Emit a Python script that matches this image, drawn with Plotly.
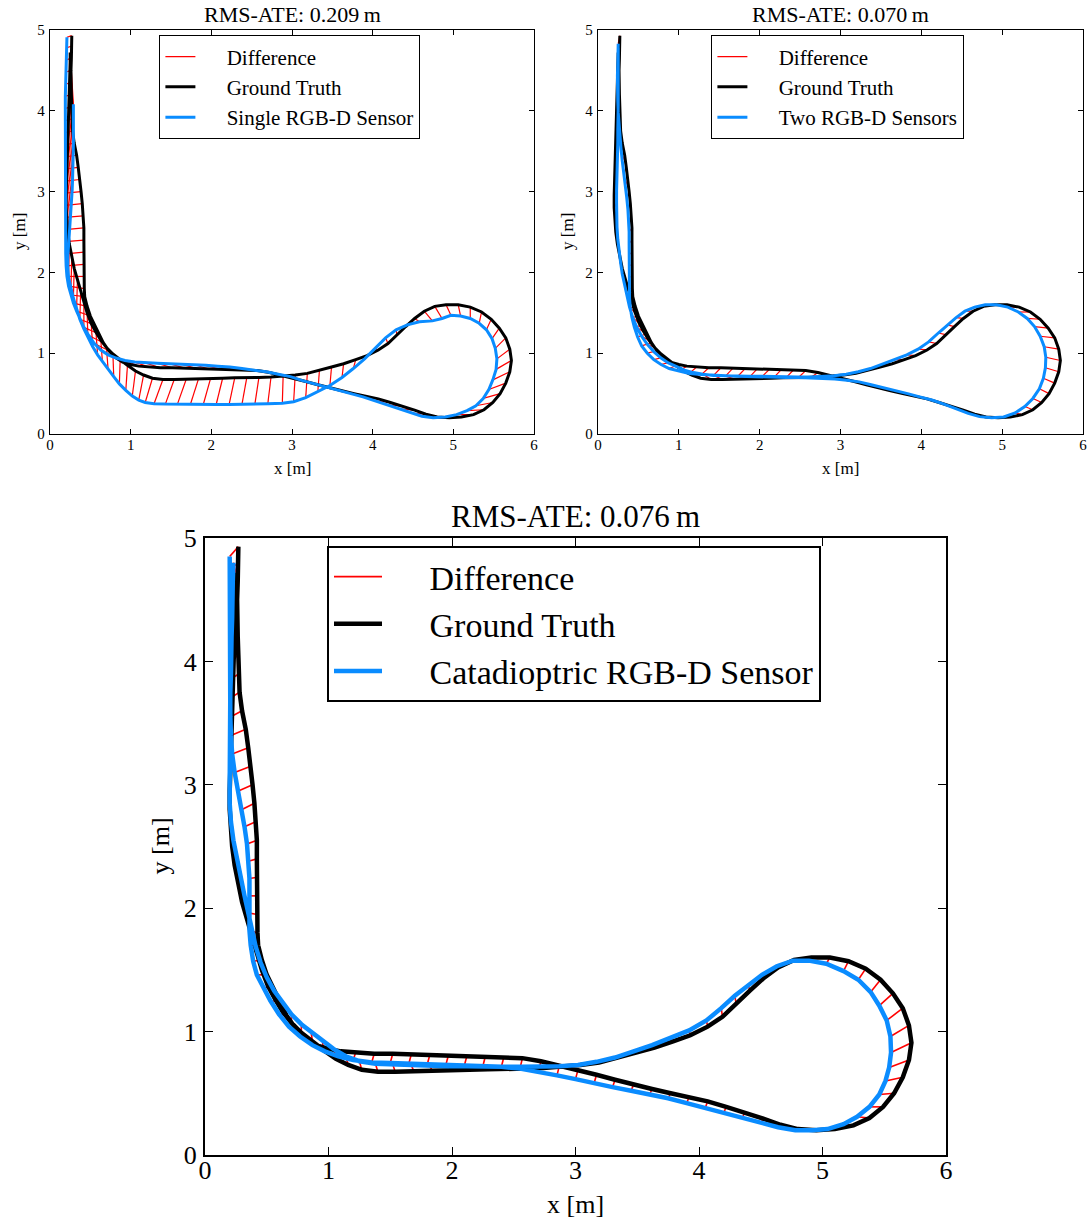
import plotly.graph_objects as go

# ---------------- data ----------------
gt_x = [0.27, 0.27, 0.265, 0.26, 0.26, 0.265, 0.27, 0.275, 0.28, 0.30, 0.33, 0.35, 0.37, 0.385, 0.40, 0.41, 0.42, 0.42, 0.42, 0.42, 0.42, 0.425, 0.43,
        0.46, 0.50, 0.55, 0.60, 0.66, 0.73, 0.81, 0.90, 1.00, 1.10, 1.22,
        1.37, 1.52, 1.67, 1.82, 1.97, 2.12, 2.27, 2.42, 2.57, 2.72, 2.87, 3.02,
        3.17, 3.32, 3.47, 3.62, 3.77, 3.92, 4.07, 4.22, 4.37, 4.52, 4.66, 4.80, 4.95,
        5.10, 5.25, 5.38, 5.49, 5.58, 5.65, 5.70, 5.72, 5.70, 5.65, 5.57, 5.47, 5.35, 5.21, 5.06, 4.91, 4.77,
        4.64, 4.52, 4.41, 4.30, 4.19, 4.07, 3.93, 3.79, 3.64, 3.49, 3.34, 3.19, 3.04, 2.89,
        2.74, 2.59, 2.44, 2.29, 2.14, 1.99, 1.84, 1.69, 1.54, 1.40, 1.27, 1.16,
        1.06, 0.96, 0.87, 0.78, 0.70, 0.63, 0.57, 0.51, 0.46, 0.42, 0.38, 0.34, 0.30, 0.27, 0.24, 0.22, 0.21,
        0.20, 0.20, 0.205, 0.21, 0.215, 0.22, 0.225, 0.23, 0.235, 0.24, 0.245, 0.25, 0.25, 0.25]
gt_y = [4.93, 4.80, 4.65, 4.50, 4.35, 4.20, 4.05, 3.90, 3.75, 3.60, 3.45, 3.30, 3.15, 3.00, 2.85, 2.70, 2.55, 2.40, 2.25, 2.10, 1.95, 1.80, 1.70,
        1.58, 1.46, 1.35, 1.24, 1.13, 1.03, 0.95, 0.89, 0.86, 0.84, 0.83,
        0.82, 0.82, 0.815, 0.81, 0.805, 0.80, 0.80, 0.795, 0.785, 0.76, 0.725, 0.69,
        0.65, 0.61, 0.57, 0.535, 0.50, 0.47, 0.435, 0.39, 0.345, 0.295, 0.245, 0.21, 0.20,
        0.21, 0.24, 0.30, 0.39, 0.50, 0.63, 0.77, 0.91, 1.05, 1.19, 1.31, 1.42, 1.51, 1.57, 1.60, 1.60, 1.58,
        1.52, 1.43, 1.33, 1.23, 1.12, 1.04, 0.97, 0.92, 0.87, 0.83, 0.79, 0.75, 0.73, 0.715,
        0.705, 0.70, 0.70, 0.695, 0.69, 0.685, 0.68, 0.68, 0.675, 0.675, 0.69, 0.73,
        0.78, 0.85, 0.92, 0.99, 1.07, 1.16, 1.26, 1.37, 1.50, 1.63, 1.77, 1.91, 2.05, 2.20, 2.35, 2.50, 2.65,
        2.80, 2.95, 3.10, 3.25, 3.40, 3.55, 3.70, 3.85, 4.00, 4.15, 4.30, 4.45, 4.60, 4.72]

single_x = [0.21, 0.205, 0.20, 0.20, 0.195, 0.19, 0.19, 0.19, 0.19, 0.19, 0.19, 0.19, 0.19, 0.19, 0.19, 0.19, 0.19, 0.19, 0.195, 0.20, 0.21, 0.23, 0.26,
            0.29, 0.33, 0.37, 0.42, 0.48, 0.55, 0.63, 0.72, 0.82, 0.93, 1.05,
            1.18, 1.33, 1.48, 1.63, 1.78, 1.93, 2.08, 2.23, 2.38, 2.53, 2.68, 2.83,
            2.98, 3.13, 3.28, 3.43, 3.58, 3.73, 3.88, 4.03, 4.18, 4.33, 4.47, 4.61, 4.75,
            4.90, 5.04, 5.17, 5.28, 5.37, 5.44, 5.49, 5.53, 5.54, 5.52, 5.48, 5.41, 5.32, 5.21, 5.09, 4.97, 4.86,
            4.74, 4.58, 4.43, 4.29, 4.16, 4.03, 3.90, 3.76, 3.62, 3.47, 3.32, 3.17, 3.02, 2.88,
            2.70, 2.54, 2.38, 2.22, 2.06, 1.90, 1.74, 1.58, 1.43, 1.29, 1.18, 1.10,
            1.02, 0.94, 0.86, 0.79, 0.72, 0.65, 0.59, 0.53, 0.47, 0.42, 0.37, 0.33, 0.29, 0.26, 0.23, 0.22, 0.22,
            0.23, 0.24, 0.25, 0.26, 0.27, 0.275, 0.28, 0.285, 0.29, 0.29, 0.29, 0.29, 0.29, 0.29]
single_y = [4.91, 4.78, 4.63, 4.48, 4.33, 4.18, 4.03, 3.88, 3.73, 3.58, 3.43, 3.28, 3.13, 2.98, 2.83, 2.68, 2.53, 2.38, 2.23, 2.08, 1.95, 1.83, 1.72,
            1.62, 1.52, 1.42, 1.32, 1.22, 1.12, 1.04, 0.98, 0.94, 0.91, 0.89,
            0.88, 0.875, 0.87, 0.865, 0.86, 0.85, 0.84, 0.83, 0.81, 0.79, 0.77, 0.74,
            0.71, 0.66, 0.62, 0.58, 0.54, 0.50, 0.46, 0.41, 0.36, 0.31, 0.26, 0.22, 0.20,
            0.21, 0.24, 0.29, 0.35, 0.44, 0.55, 0.67, 0.80, 0.93, 1.06, 1.18, 1.29, 1.37, 1.43, 1.46, 1.47, 1.43,
            1.40, 1.39, 1.35, 1.29, 1.19, 1.06, 0.93, 0.81, 0.70, 0.60, 0.52, 0.45, 0.40, 0.38,
            0.375, 0.37, 0.37, 0.365, 0.365, 0.365, 0.365, 0.37, 0.37, 0.375, 0.39, 0.42,
            0.47, 0.54, 0.62, 0.71, 0.80, 0.89, 0.98, 1.08, 1.19, 1.30, 1.42, 1.55, 1.68, 1.81, 1.94, 2.07, 2.20,
            2.33, 2.46, 2.60, 2.74, 2.88, 3.02, 3.16, 3.30, 3.44, 3.58, 3.72, 3.86, 3.98, 4.08]

two_x = [0.25, 0.25, 0.245, 0.24, 0.24, 0.245, 0.25, 0.26, 0.27, 0.285, 0.30, 0.32, 0.34, 0.355, 0.37, 0.38, 0.385, 0.385, 0.385, 0.385, 0.385, 0.385, 0.39,
         0.40, 0.42, 0.45, 0.49, 0.54, 0.61, 0.69, 0.78, 0.88, 1.00, 1.13,
         1.28, 1.43, 1.58, 1.73, 1.88, 2.03, 2.18, 2.33, 2.48, 2.63, 2.78, 2.93,
         3.08, 3.23, 3.38, 3.53, 3.68, 3.83, 3.98, 4.13, 4.28, 4.43, 4.58, 4.72, 4.87,
         5.02, 5.16, 5.28, 5.38, 5.46, 5.51, 5.535, 5.54, 5.52, 5.47, 5.40, 5.31, 5.20, 5.07, 4.93, 4.79, 4.66,
         4.54, 4.43, 4.32, 4.21, 4.09, 3.96, 3.82, 3.67, 3.52, 3.37, 3.22, 3.07, 2.92, 2.77,
         2.62, 2.47, 2.32, 2.17, 2.02, 1.87, 1.72, 1.57, 1.43, 1.30, 1.18, 1.07,
         0.97, 0.87, 0.78, 0.69, 0.61, 0.54, 0.48, 0.43, 0.39, 0.36, 0.33, 0.30, 0.28, 0.26, 0.245, 0.235, 0.23,
         0.23, 0.23, 0.235, 0.24, 0.24, 0.245, 0.245, 0.25, 0.25, 0.25, 0.25, 0.25, 0.25, 0.25]
two_y = [4.83, 4.72, 4.58, 4.43, 4.28, 4.13, 3.98, 3.83, 3.68, 3.53, 3.38, 3.23, 3.08, 2.93, 2.78, 2.64, 2.50, 2.36, 2.22, 2.08, 1.94, 1.80, 1.68,
         1.56, 1.44, 1.32, 1.20, 1.09, 1.00, 0.92, 0.86, 0.81, 0.78, 0.75,
         0.735, 0.725, 0.72, 0.715, 0.71, 0.71, 0.705, 0.70, 0.70, 0.695, 0.69, 0.68,
         0.665, 0.645, 0.61, 0.575, 0.535, 0.50, 0.46, 0.42, 0.37, 0.31, 0.255, 0.215, 0.20,
         0.21, 0.26, 0.34, 0.44, 0.56, 0.69, 0.82, 0.95, 1.08, 1.21, 1.33, 1.43, 1.51, 1.57, 1.60, 1.60, 1.57,
         1.52, 1.44, 1.35, 1.25, 1.14, 1.05, 0.98, 0.92, 0.86, 0.81, 0.77, 0.74, 0.72, 0.71,
         0.705, 0.705, 0.71, 0.71, 0.715, 0.715, 0.72, 0.72, 0.725, 0.74, 0.76, 0.79,
         0.83, 0.88, 0.94, 1.02, 1.11, 1.21, 1.32, 1.44, 1.57, 1.70, 1.84, 1.98, 2.12, 2.26, 2.41, 2.56, 2.71,
         2.86, 3.01, 3.16, 3.31, 3.46, 3.61, 3.76, 3.91, 4.06, 4.21, 4.36, 4.51, 4.66, 4.78]

cata_x = [0.20, 0.20, 0.20, 0.20, 0.20, 0.20, 0.20, 0.20, 0.20, 0.205, 0.21, 0.22, 0.24, 0.27, 0.30, 0.32, 0.34, 0.35, 0.36, 0.36, 0.36, 0.36, 0.37,
          0.39, 0.42, 0.47, 0.53, 0.60, 0.68, 0.77, 0.87, 0.97, 1.08, 1.20,
          1.35, 1.50, 1.65, 1.80, 1.95, 2.10, 2.25, 2.40, 2.55, 2.70, 2.85, 3.00,
          3.15, 3.30, 3.45, 3.60, 3.75, 3.90, 4.05, 4.20, 4.35, 4.50, 4.64, 4.78, 4.92,
          5.04, 5.17, 5.28, 5.38, 5.46, 5.51, 5.54, 5.555, 5.55, 5.52, 5.46, 5.39, 5.29, 5.17, 5.03, 4.89, 4.76,
          4.63, 4.51, 4.40, 4.29, 4.18, 4.06, 3.92, 3.77, 3.62, 3.47, 3.32, 3.17, 3.02, 2.87,
          2.72, 2.57, 2.42, 2.27, 2.12, 1.97, 1.82, 1.67, 1.52, 1.38, 1.25, 1.14,
          1.04, 0.95, 0.86, 0.78, 0.70, 0.63, 0.56, 0.50, 0.45, 0.41, 0.38, 0.35, 0.32, 0.29, 0.26, 0.23, 0.21,
          0.20, 0.20, 0.20, 0.20, 0.20, 0.20, 0.205, 0.21, 0.21, 0.215, 0.22, 0.22, 0.225, 0.23]
cata_y = [4.85, 4.74, 4.60, 4.45, 4.30, 4.15, 4.00, 3.85, 3.70, 3.55, 3.40, 3.25, 3.10, 2.95, 2.80, 2.66, 2.52, 2.38, 2.24, 2.10, 1.96, 1.82, 1.70,
          1.57, 1.46, 1.36, 1.25, 1.14, 1.04, 0.96, 0.89, 0.84, 0.80, 0.77,
          0.75, 0.745, 0.74, 0.735, 0.73, 0.725, 0.72, 0.715, 0.70, 0.675, 0.645, 0.615,
          0.58, 0.55, 0.52, 0.49, 0.46, 0.42, 0.38, 0.34, 0.30, 0.26, 0.225, 0.20, 0.20,
          0.21, 0.25, 0.31, 0.39, 0.49, 0.60, 0.71, 0.83, 0.96, 1.09, 1.21, 1.32, 1.42, 1.49, 1.55, 1.575, 1.575,
          1.53, 1.46, 1.38, 1.29, 1.19, 1.09, 1.01, 0.95, 0.89, 0.84, 0.79, 0.755, 0.73, 0.72,
          0.715, 0.715, 0.715, 0.72, 0.72, 0.72, 0.725, 0.73, 0.735, 0.74, 0.76, 0.80,
          0.86, 0.93, 0.99, 1.06, 1.14, 1.23, 1.33, 1.44, 1.56, 1.69, 1.82, 1.96, 2.10, 2.25, 2.40, 2.55, 2.70,
          2.85, 3.00, 3.15, 3.30, 3.45, 3.60, 3.75, 3.90, 4.05, 4.20, 4.35, 4.50, 4.65, 4.80]

titles = ["RMS-ATE: 0.209\u2009m", "RMS-ATE: 0.070\u2009m", "RMS-ATE: 0.076\u2009m"]
est_names = ["Single RGB-D Sensor", "Two RGB-D Sensors", "Catadioptric RGB-D Sensor"]
x_ticks = [0, 1, 2, 3, 4, 5, 6]
y_ticks = [0, 1, 2, 3, 4, 5]

# ---------------- figure ----------------
W, H = 1089, 1220
FONT = "Liberation Serif"
BLUE = "#0a8cff"
NB = "\u00a0" * 5  # indent of legend labels

fig = go.Figure()


def diff_lines(ax, ay, bx, by):
    xs, ys = [], []
    for x0, y0, x1, y1 in zip(ax, ay, bx, by):
        xs += [x0, x1, None]
        ys += [y0, y1, None]
    return xs, ys


panels = [
    dict(ex=single_x, ey=single_y, xa="x", ya="y", leg="legend", lw_gt=3, lw_est=3, lw_d=1.2),
    dict(ex=two_x, ey=two_y, xa="x2", ya="y2", leg="legend2", lw_gt=3, lw_est=3, lw_d=1.2),
    dict(ex=cata_x, ey=cata_y, xa="x3", ya="y3", leg="legend3", lw_gt=4.5, lw_est=4.5, lw_d=1.6),
]

for i, p in enumerate(panels):
    dx, dy = diff_lines(gt_x, gt_y, p["ex"], p["ey"])
    fig.add_trace(go.Scatter(x=dx, y=dy, mode="lines", name=NB + "Difference",
                             line=dict(color="#ff0000", width=p["lw_d"]),
                             xaxis=p["xa"], yaxis=p["ya"], legend=p["leg"],
                             legendgroup=f"d{i}"))
    fig.add_trace(go.Scatter(x=gt_x, y=gt_y, mode="lines", name=NB + "Ground Truth",
                             line=dict(color="black", width=p["lw_gt"]),
                             xaxis=p["xa"], yaxis=p["ya"], legend=p["leg"],
                             legendgroup=f"g{i}"))
    fig.add_trace(go.Scatter(x=p["ex"], y=p["ey"], mode="lines", name=NB + est_names[i],
                             line=dict(color=BLUE, width=p["lw_est"]),
                             xaxis=p["xa"], yaxis=p["ya"], legend=p["leg"],
                             legendgroup=f"e{i}"))

# plot areas in pixels: (left, right, top, bottom)
areas = [(50, 534, 30, 434), (598, 1083, 30, 434), (205, 946, 538, 1155)]
small = dict(tick=15, lab=17, title=22, ticklen=5, lw=1.4, xsto=-3, ysto=1, tgap=15, xgap=34, ygap=30)
big = dict(tick=26, lab=26, title=31, ticklen=8, lw=2, xsto=-9, ysto=1, tgap=22, xgap=49, ygap=45)

layout = dict(width=W, height=H, margin=dict(l=0, r=0, t=0, b=0, autoexpand=False),
              paper_bgcolor="white", plot_bgcolor="white", template="none",
              font=dict(family=FONT, color="black"))
annotations = []
for i, (l, r, t, b) in enumerate(areas):
    st = small if i < 2 else big
    sfx = "" if i == 0 else str(i + 1)
    common = dict(ticks="inside", ticklen=st["ticklen"], tickwidth=1, tickcolor="black",
                  showline=True, linecolor="black", linewidth=st["lw"], mirror="ticks",
                  showgrid=False, zeroline=False, automargin=False,
                  tickfont=dict(family=FONT, size=st["tick"], color="black"))
    layout["xaxis" + sfx] = dict(domain=[l / W, r / W], range=[0, 6], anchor="y" + sfx,
                                 tickvals=x_ticks, ticklabelstandoff=st["xsto"], **common)
    layout["yaxis" + sfx] = dict(domain=[1 - b / H, 1 - t / H], range=[0, 5], anchor="x" + sfx,
                                 tickvals=y_ticks, ticklabelstandoff=st["ysto"], **common)
    cx = (l + r) / 2
    annotations.append(dict(text=titles[i], x=cx / W, y=1 - (t - st["tgap"]) / H,
                            xref="paper", yref="paper", xanchor="center", yanchor="middle",
                            showarrow=False, font=dict(family=FONT, size=st["title"])))
    annotations.append(dict(text="x [m]", x=cx / W, y=1 - (b + st["xgap"]) / H,
                            xref="paper", yref="paper", xanchor="center", yanchor="middle",
                            showarrow=False, font=dict(family=FONT, size=st["lab"])))
    annotations.append(dict(text="y [m]", x=(l - st["ygap"]) / W, y=1 - ((t + b) / 2) / H,
                            xref="paper", yref="paper", xanchor="center", yanchor="middle",
                            textangle=-90, showarrow=False, font=dict(family=FONT, size=st["lab"])))

legend_pos = [(159, 35, 21, 30, 3), (711, 35, 21, 30, 3), (327, 546, 34, 48, 1)]
for i, (lx, ly, fs, iw, gap) in enumerate(legend_pos):
    key = "legend" if i == 0 else f"legend{i + 1}"
    layout[key] = dict(x=lx / W, y=1 - ly / H, xanchor="left", yanchor="top",
                       bgcolor="white", bordercolor="black", borderwidth=1.4 if i < 2 else 2,
                       font=dict(family=FONT, size=fs, color="black"), tracegroupgap=gap,
                       itemwidth=iw, traceorder="normal")

layout["annotations"] = annotations
layout["showlegend"] = True
fig.update_layout(**layout)

fig.write_html("out.html")
